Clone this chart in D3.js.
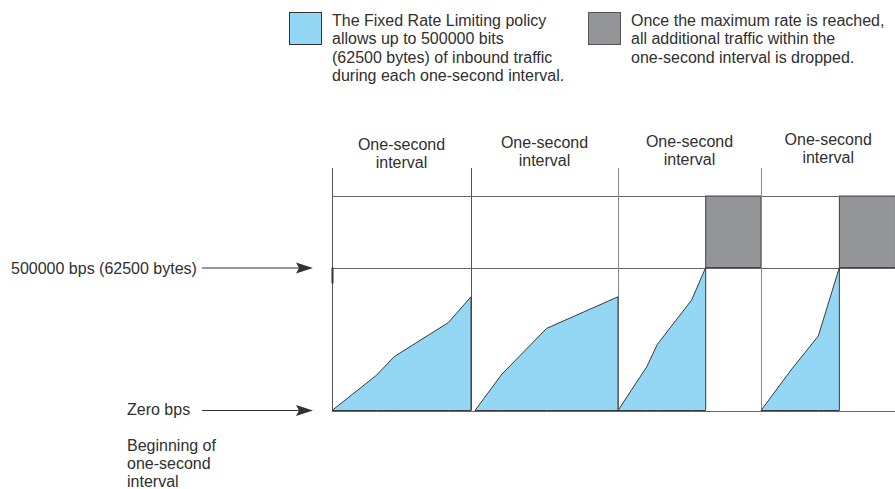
<!DOCTYPE html>
<html>
<head>
<meta charset="utf-8">
<script src="https://cdn.jsdelivr.net/npm/d3@7/dist/d3.min.js"></script>
<style>
  html, body { margin: 0; padding: 0; background: #fff; }
  svg text { font-family: "Liberation Sans", Arial, Helvetica, sans-serif; font-size: 16px; fill: #2f2f2f; }
</style>
</head>
<body>
<div id="chart"></div>
<script>
// Данные: время в секундах, объём в байтах
const intervalStarts = [0, 0.972, 2.0, 3.0];
const intervalEnds = [0.972, 2.0, 3.0, 3.94];
const intervalLabels = ['One-second', 'interval'];
const maxBytes = 62500;
const topBytes = 93750;

const traffic1 = [[0, 0], [0.313, 15500], [0.434, 23500], [0.813, 38400], [0.972, 49700]];
const traffic2 = [[1.0, 0], [1.187, 15800], [1.501, 35900], [2.0, 49700]];
const traffic3 = [[2.0, 0], [2.201, 19100], [2.275, 28900], [2.515, 48300], [2.613, 62500]];
const traffic4 = [[3.0, 0], [3.21, 17700], [3.401, 32600], [3.548, 62500]];
const trafficSeries = [traffic1, traffic2, traffic3, traffic4];

const droppedStarts = [2.613, 3.548];
const droppedEnds = [3.0, 3.94];

const legendBlue = ['The Fixed Rate Limiting policy', 'allows up to 500000 bits',
  '(62500 bytes) of inbound traffic', 'during each one-second interval.'];
const legendGray = ['Once the maximum rate is reached,', 'all additional traffic within the',
  'one-second interval is dropped.'];
const maxLabel = '500000 bps (62500 bytes)';
const zeroLabel = 'Zero bps';
const beginLabel = ['Beginning of', 'one-second', 'interval'];

// Размеры
const width = 895, height = 489;
const blue = '#94d7f5', gray = '#949599', lineColor = '#666';

const svg = d3.select('#chart').append('svg')
  .attr('width', width).attr('height', height);

const x = d3.scaleLinear().domain([0, 4]).range([332, 904]);
const y = d3.scaleLinear().domain([0, maxBytes]).range([410.5, 267.5]);
const xEnd = x(intervalEnds[intervalEnds.length - 1]);

// Легенда
function legend(lx, color, stroke, lines) {
  const g = svg.append('g');
  g.append('rect').attr('x', lx + 0.5).attr('y', 12.5).attr('width', 32).attr('height', 32)
    .attr('fill', color).attr('stroke', stroke).attr('stroke-width', 1);
  g.selectAll('text').data(lines).enter().append('text')
    .attr('x', lx + 43).attr('y', (d, i) => 26 + i * 18.3)
    .text(d => d);
}
legend(289, blue, '#333', legendBlue);
legend(588, gray, '#555', legendGray);

// Серые блоки (отброшенный трафик)
svg.selectAll('.dropped').data(droppedStarts).enter().append('rect')
  .attr('class', 'dropped')
  .attr('x', d => x(d))
  .attr('y', y(topBytes))
  .attr('width', (d, i) => Math.max(0, x(droppedEnds[i]) - x(d)))
  .attr('height', y(maxBytes) - y(topBytes))
  .attr('fill', gray).attr('stroke', '#444').attr('stroke-width', 1);

// Горизонтальные линии
svg.selectAll('.hline').data([topBytes, maxBytes, 0]).enter().append('line')
  .attr('class', 'hline')
  .attr('x1', x(0)).attr('x2', xEnd)
  .attr('y1', d => Math.round(y(d)) + 0.5).attr('y2', d => Math.round(y(d)) + 0.5)
  .attr('stroke', lineColor).attr('stroke-width', 1);

// Вертикальные границы интервалов
svg.selectAll('.vline').data(intervalStarts).enter().append('line')
  .attr('class', 'vline')
  .attr('x1', d => Math.round(x(d)) + 0.5).attr('x2', d => Math.round(x(d)) + 0.5)
  .attr('y1', 168).attr('y2', y(0))
  .attr('stroke', (d, i) => i < 2 ? '#555' : '#8a8a8a').attr('stroke-width', 1);

// Маленький штрих на левой оси
svg.append('line')
  .attr('x1', x(0) + 0.5).attr('x2', x(0) + 0.5)
  .attr('y1', y(maxBytes)).attr('y2', y(maxBytes) + 16)
  .attr('stroke', '#333').attr('stroke-width', 2);

// Области трафика
const area = d3.area()
  .x(d => x(d[0]))
  .y0(y(0))
  .y1(d => y(d[1]));

svg.selectAll('.traffic').data(trafficSeries).enter().append('path')
  .attr('class', 'traffic')
  .attr('d', area)
  .attr('fill', blue).attr('stroke', '#3a3a3a').attr('stroke-width', 1)
  .attr('stroke-linejoin', 'round');

// Подписи интервалов
const labelBase = [149.5, 147.5, 146.7, 145];
intervalStarts.forEach((s, i) => {
  const cx = (x(s) + Math.min(x(intervalEnds[i]), xEnd)) / 2;
  svg.append('text')
    .attr('x', cx).attr('y', labelBase[i])
    .attr('text-anchor', 'middle')
    .selectAll('tspan').data(intervalLabels).enter().append('tspan')
    .attr('x', cx).attr('dy', (d, j) => j === 0 ? 0 : 18.2)
    .text(d => d);
});

// Стрелки
function arrow(ay) {
  svg.append('line')
    .attr('x1', 202).attr('x2', 300).attr('y1', ay).attr('y2', ay)
    .attr('stroke', '#333').attr('stroke-width', 1.2);
  svg.append('path')
    .attr('d', `M313,${ay} L296,${ay - 5.5} L299,${ay} L296,${ay + 5.5} Z`)
    .attr('fill', '#333');
}
arrow(y(maxBytes) + 0.5);
arrow(y(0));

svg.append('text').attr('x', 11).attr('y', y(maxBytes) + 6).text(maxLabel);
svg.append('text').attr('x', 127).attr('y', y(0) + 4.5).text(zeroLabel);
svg.selectAll('.begin').data(beginLabel).enter().append('text')
  .attr('class', 'begin')
  .attr('x', 127).attr('y', (d, i) => 450.5 + i * 18)
  .text(d => d);
</script>
</body>
</html>
